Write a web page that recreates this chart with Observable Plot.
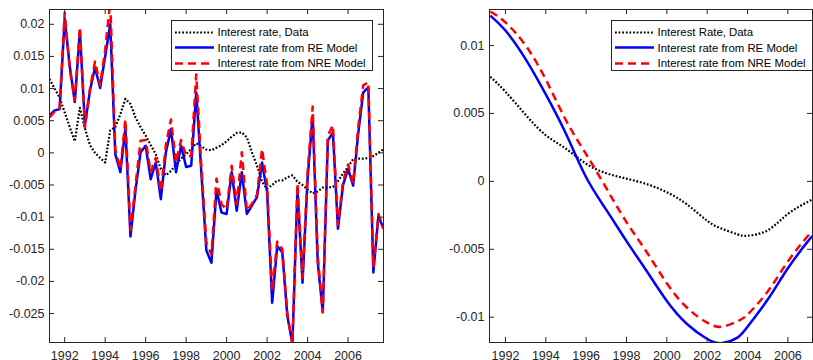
<!DOCTYPE html>
<html><head><meta charset="utf-8">
<script src="https://cdn.jsdelivr.net/npm/d3@7"></script>
<script src="https://cdn.jsdelivr.net/npm/@observablehq/plot@0.6"></script>
<style>
body{margin:0;background:#fff;}
#wrap{position:relative;width:813px;height:360px;overflow:hidden;font-family:"Liberation Sans",Arial,sans-serif;background:#fff;}
.panel{position:absolute;top:0;}
.legend{position:absolute;background:#fff;border:1px solid #262626;box-sizing:border-box;font-size:11.4px;color:#000;}
.legend .row{position:absolute;height:15px;display:flex;align-items:center;white-space:nowrap;}
.legend svg{display:block;}
</style></head>
<body><div id="wrap"></div>
<script>
// ---------- Left panel data (quarterly, 1991Q2 .. 2007Q4) ----------
const leftStart = 1991.25;
const dataRate = [0.0115,0.0100,0.0086,0.0063,0.0040,0.0018,0.0070,0.0038,0.0012,0.0000,-0.0008,-0.0015,0.0035,0.0040,0.0060,0.0084,0.0076,0.0055,0.0040,0.0027,0.0012,-0.0002,-0.0025,-0.0035,-0.0028,-0.0018,-0.0009,-0.0002,0.0006,0.0015,0.0010,0.0005,0.0004,0.0008,0.0012,0.0018,0.0025,0.0031,0.0032,0.0024,0.0001,-0.0020,-0.0045,-0.0056,-0.0050,-0.0043,-0.0043,-0.0038,-0.0035,-0.0045,-0.0050,-0.0057,-0.0063,-0.0060,-0.0054,-0.0054,-0.0053,-0.0044,-0.0032,-0.0022,-0.0010,-0.0009,-0.0009,-0.0008,-0.0005,0.0000,0.0006];
const reRate = [0.0058,0.0066,0.0068,0.0209,0.0135,0.0079,0.0190,0.0043,0.0097,0.0133,0.0101,0.0150,0.0200,-0.0002,-0.0030,0.0038,-0.0130,-0.0058,0.0001,0.0011,-0.0041,-0.0015,-0.0072,0.0001,0.0037,-0.0030,0.0011,-0.0022,-0.0020,0.0094,-0.0030,-0.0152,-0.0171,-0.0058,-0.0093,-0.0095,-0.0030,-0.0090,-0.0030,-0.0095,-0.0082,-0.0069,-0.0015,-0.0061,-0.0233,-0.0145,-0.0155,-0.0254,-0.0297,-0.0056,-0.0202,-0.0040,0.0058,-0.0170,-0.0248,0.0019,0.0032,-0.0118,-0.0050,-0.0025,-0.0051,0.0030,0.0094,0.0102,-0.0186,-0.0098,-0.0118];
const nreRate = [0.0055,0.0064,0.0068,0.0218,0.0130,0.0082,0.0195,0.0040,0.0100,0.0142,0.0105,0.0160,0.0235,0.0005,-0.0025,0.0052,-0.0120,-0.0050,0.0019,0.0020,-0.0030,-0.0008,-0.0060,0.0012,0.0052,-0.0015,0.0020,-0.0005,-0.0005,0.0122,-0.0020,-0.0140,-0.0158,-0.0040,-0.0080,-0.0088,-0.0020,-0.0080,0.0001,-0.0090,-0.0079,-0.0065,0.0006,-0.0050,-0.0215,-0.0138,-0.0150,-0.0250,-0.0297,-0.0048,-0.0195,-0.0030,0.0072,-0.0160,-0.0248,0.0027,0.0043,-0.0112,-0.0045,-0.0018,-0.0048,0.0040,0.0105,0.0110,-0.0178,-0.0095,-0.0118];
const quarters = dataRate.map((_, i) => leftStart + i / 4);

// ---------- Right panel data (smooth trends) ----------
const trendYears = [1991.25,1992,1993,1994,1995,1996,1997,1998,1999,2000,2001,2002,2002.75,2003.5,2004,2005,2006,2007,2007.25];
const trendData = [0.0077,0.0066,0.0049,0.0034,0.0024,0.0013,0.0006,0.0002,-0.0002,-0.0008,-0.0017,-0.0029,-0.0035,-0.0039,-0.0040,-0.0036,-0.0024,-0.0015,-0.0013];
const trendRE   = [0.0122,0.0111,0.0090,0.0064,0.0035,0.0003,-0.0021,-0.0044,-0.0066,-0.0088,-0.0105,-0.0116,-0.0119,-0.0115,-0.0107,-0.0087,-0.0064,-0.0044,-0.0040];
const trendNRE  = [0.0125,0.0117,0.0100,0.0075,0.0045,0.0020,-0.0005,-0.0030,-0.0052,-0.0075,-0.0093,-0.0104,-0.0107,-0.0103,-0.0098,-0.0081,-0.0059,-0.0040,-0.0037];

// ---------- Ticks & labels ----------
const xTicks = [1992,1994,1996,1998,2000,2002,2004,2006];
const leftYTicks = [0.02,0.015,0.01,0.005,0,-0.005,-0.01,-0.015,-0.02,-0.025];
const leftYLabels = ["0.02","0.015","0.01","0.005","0","-0.005","-0.01","-0.015","-0.02","-0.025"];
const rightYTicks = [0.01,0.005,0,-0.005,-0.01];
const rightYLabels = ["0.01","0.005","0","-0.005","-0.01"];

const leftLegend = ["Interest rate, Data","Interest rate from RE Model","Interest rate from NRE Model"];
const rightLegend = ["Interest Rate, Data","Interest rate from RE Model","Interest rate from NRE Model"];

const styles = [
  {stroke:"#000000", strokeWidth:2.2, strokeDasharray:"1.8,1.8"},
  {stroke:"#0000ff", strokeWidth:2.5, strokeDasharray:null},
  {stroke:"#ff0000", strokeWidth:2.5, strokeDasharray:"8,5"}
];

const H = 360, MT = 9, MB = 18, AX = "#262626";

function panel({width, marginLeft, marginRight, xDomain, yDomain, yTicks, yLabels, xs, series, curve}) {
  const innerH = H - MT - MB, innerW = width - marginLeft - marginRight, T = 5;
  const lab = new Map(yTicks.map((t, i) => [t, yLabels[i]]));
  return Plot.plot({
    width, height: H, marginLeft, marginRight, marginTop: MT, marginBottom: MB,
    style: {fontFamily: "'Liberation Sans', Arial, sans-serif", fontSize: "12.5px", color: AX, background: "transparent", overflow: "visible"},
    x: {domain: xDomain},
    y: {domain: yDomain},
    marks: [
      ...series.map((vals, k) => Plot.line(vals, {x: xs, y: vals, curve, clip: true,
        stroke: styles[k].stroke, strokeWidth: styles[k].strokeWidth, strokeDasharray: styles[k].strokeDasharray,
        strokeLinejoin: "round", strokeLinecap: "butt"})),
      Plot.frame({stroke: AX}),
      Plot.tickX(xTicks, {x: d => d, stroke: AX, insetTop: innerH - T}),
      Plot.tickX(xTicks, {x: d => d, stroke: AX, insetBottom: innerH - T}),
      Plot.tickY(yTicks, {y: d => d, stroke: AX, insetRight: innerW - T}),
      Plot.tickY(yTicks, {y: d => d, stroke: AX, insetLeft: innerW - T}),
      Plot.axisX(xTicks, {tickSize: 0, tickPadding: 9, tickFormat: d => String(d), label: null}),
      Plot.axisY(yTicks, {tickSize: 0, tickPadding: 5, tickFormat: d => lab.get(d), label: null})
    ]
  });
}

const wrap = document.getElementById("wrap");

function place(node, left) {
  const d = document.createElement("div");
  d.className = "panel"; d.style.left = left + "px";
  d.appendChild(node); wrap.appendChild(d);
}

place(panel({width: 400, marginLeft: 49, marginRight: 17, xDomain: [1991.25, 2007.75], yDomain: [-0.0295, 0.0223],
  yTicks: leftYTicks, yLabels: leftYLabels, xs: quarters, series: [dataRate, reRate, nreRate], curve: "linear"}), 0);

place(panel({width: 413, marginLeft: 89, marginRight: 1, xDomain: [1991.21, 2007.22], yDomain: [-0.01186, 0.01265],
  yTicks: rightYTicks, yLabels: rightYLabels, xs: trendYears, series: [trendData, trendRE, trendNRE], curve: "natural"}), 400);

function legend(names, left, top, width) {
  const box = document.createElement("div");
  box.className = "legend";
  Object.assign(box.style, {left: left + "px", top: top + "px", width: width + "px", height: "51px"});
  names.forEach((name, k) => {
    const row = document.createElement("div");
    row.className = "row";
    row.style.left = "3px";
    row.style.top = (3.5 + k * 15.5) + "px";
    const s = styles[k];
    row.innerHTML = `<svg width="40" height="15"><line x1="0" x2="39" y1="7.5" y2="7.5" stroke="${s.stroke}" stroke-width="${s.strokeWidth}" ${s.strokeDasharray ? `stroke-dasharray="${s.strokeDasharray}"` : ""}/></svg><span style="margin-left:2.5px">${name}</span>`;
    box.appendChild(row);
  });
  wrap.appendChild(box);
}
legend(leftLegend, 171, 20, 202);
legend(rightLegend, 611, 20, 202);
</script>
</body></html>
